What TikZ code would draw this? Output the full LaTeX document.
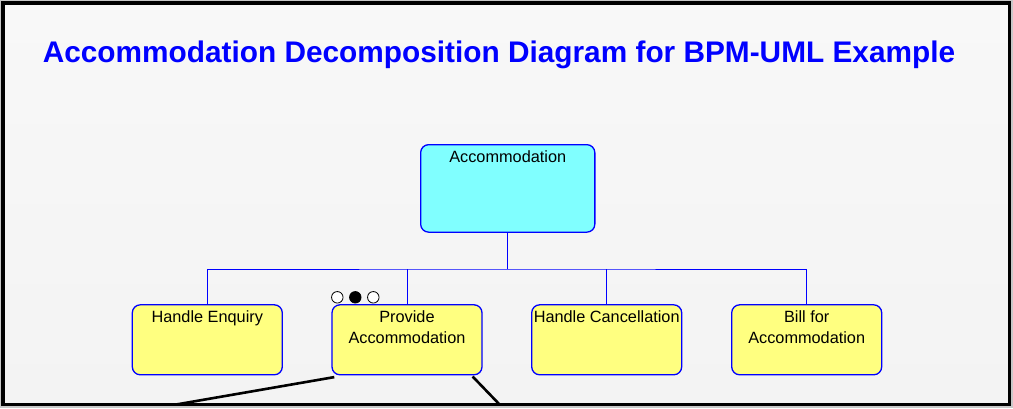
\documentclass[tikz,border=0pt]{standalone}
\usepackage{fontspec}
\setmainfont{Liberation Sans}
\definecolor{boxblue}{RGB}{0,0,255}
\definecolor{taskyellow}{RGB}{255,255,128}
\definecolor{parentcyan}{RGB}{128,255,255}
\definecolor{pagebgtop}{RGB}{248,248,248}
\definecolor{pagebgbot}{RGB}{243,243,243}
\definecolor{outergray}{RGB}{200,200,200}
% fixed-size box body with the label hanging from the top edge
\newcommand\boxbody[3]{\parbox[t][#2][t]{#1}{\centering\rule{0pt}{18pt}#3}}
\begin{document}
\begin{tikzpicture}[x=1pt,y=-1pt,
  box/.style={draw=boxblue, line width=1.3pt, rounded corners=8pt,
    inner sep=0pt, outer sep=0pt, text=black,
    font=\fontsize{16.3pt}{21pt}\selectfont},
  task/.style={box, fill=taskyellow},
  parent/.style={box, fill=parentcyan},
  conn/.style={draw=boxblue, line width=0.9pt},
  assoc/.style={draw=black, line width=2.6pt},
  dot/.style={circle, draw=black, line width=0.8pt, inner sep=0pt, minimum size=11.5pt},
  title/.style={text=boxblue, inner sep=0pt, anchor=base,
    font=\fontsize{29.8pt}{34pt}\selectfont\bfseries},
]
\useasboundingbox (0,0) rectangle (1013,408);
\fill[outergray] (0,0) rectangle (1013,408);
\shade[top color=pagebgtop, bottom color=pagebgbot] (2.75,2.75) rectangle (1009.25,404.25);

\node[title] (title) at (499,62.7) {Accommodation Decomposition Diagram for BPM-UML Example};

% parent process
\node[parent] (acc) at (507.75,188.4) {\boxbody{174.2pt}{87.5pt}{Accommodation}};

% sub-processes
\node[task] (he) at (207.3,339.8) {\boxbody{150pt}{70pt}{Handle Enquiry}};
\node[task] (pa) at (407,339.8) {\boxbody{150pt}{70pt}{Provide\\Accommodation}};
\node[task] (hc) at (606.7,339.8) {\boxbody{150pt}{70pt}{Handle Cancellation}};
\node[task] (bill) at (806.7,339.8) {\boxbody{150pt}{70pt}{Bill for\\Accommodation}};

% decomposition tree
\coordinate (hub) at (507.75,269);
\draw[conn] (acc.south) -- (hub);
\draw[conn] (he.north) |- (hub) -| (bill.north);
\draw[conn] (pa.north) -- (pa.north |- hub);
\draw[conn] (hc.north) -- (hc.north |- hub);

% marker above the expanded process
\node[dot, fill=white] (d1) at (337.3,297.3) {};
\node[dot, fill=black] (d2) at (355.3,297.3) {};
\node[dot, fill=white] (d3) at (373.3,297.3) {};

% links leaving the page from the expanded process
\coordinate (lo1) at (115.5,415);
\coordinate (lo2) at (509.7,415);
\begin{scope}
  \clip (0,0) rectangle (1013,405);
  \draw[assoc] ([shift={(2.3,2.3)}]pa.south west) -- (lo1);
  \draw[assoc] ([shift={(-9.4,1.7)}]pa.south east) -- (lo2);
\end{scope}

% page frame
\draw[black, line width=3.5pt] (2.75,2.75) rectangle (1009.25,404.25);
\end{tikzpicture}
\end{document}
